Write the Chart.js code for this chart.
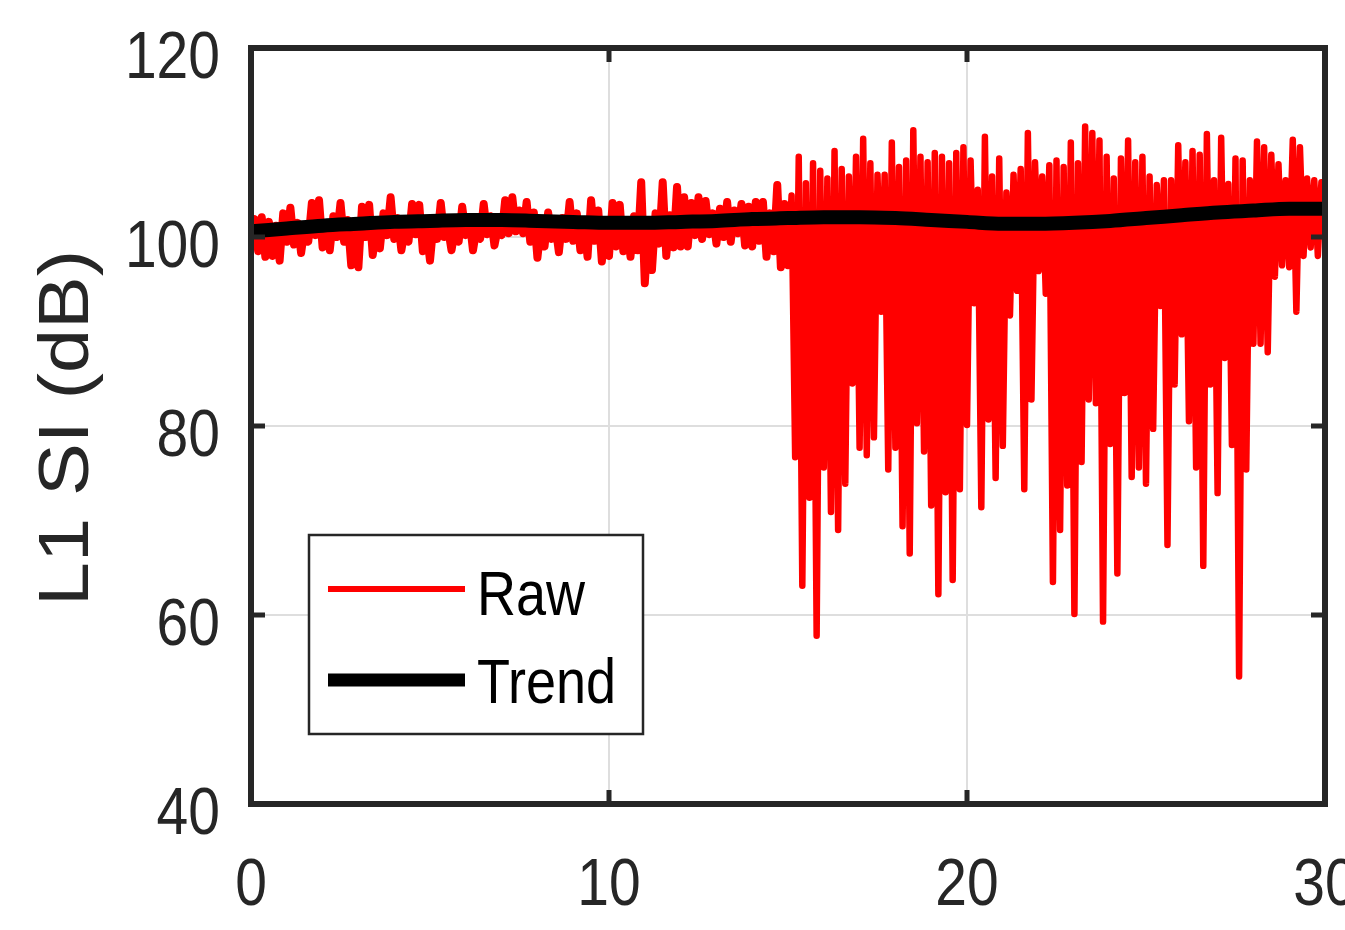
<!DOCTYPE html>
<html lang="en">

<head>
  <meta charset="UTF-8">
  <title>L1 SI</title>
  <script src="https://cdn.jsdelivr.net/npm/chart.js@4"></script>
  <style>
    html, body { margin: 0; padding: 0; background: #fff; }
    #grafico { display: block; }
  </style>
</head>

<body>

  <canvas id="grafico" width="1345" height="930"></canvas>

<script>

  // raw signal, one sample every 0.1 (row = 1 unit)
  const rawStep = 0.1;
  const rawValues = [
    100.5, 101.9, 98.5, 102.1, 97.9, 101.6, 98.0, 101.2, 97.5, 102.5,
    99.5, 103.1, 99.2, 101.5, 98.3, 101.0, 99.5, 103.6, 100.2, 103.9,
    98.9, 101.0, 98.6, 102.2, 100.0, 103.6, 99.5, 101.8, 97.0, 100.8,
    96.8, 103.2, 100.0, 103.4, 98.1, 100.8, 98.8, 102.5, 100.2, 104.2,
    99.8, 102.0, 98.6, 100.8, 99.5, 103.5, 100.3, 103.4, 98.5, 100.8,
    97.5, 101.5, 99.8, 103.6, 100.0, 101.0, 98.6, 100.8, 99.5, 103.2,
    100.2, 102.0, 98.6, 100.9, 99.8, 103.5, 100.3, 102.2, 99.1, 101.0,
    100.2, 103.9, 100.4, 104.2, 100.6, 102.8, 100.4, 103.7, 99.5, 102.6,
    97.8, 101.2, 99.0, 102.6, 99.8, 101.3, 98.4, 102.0, 99.8, 103.7,
    99.6, 102.5, 98.6, 101.8, 97.9, 103.9, 99.6, 102.8, 97.4, 101.5,
    98.0, 103.6, 99.0, 103.4, 98.5, 101.5, 97.9, 102.2, 98.6, 105.8,
    95.1, 101.2, 96.5, 102.5, 99.3, 105.8, 98.0, 102.3, 98.9, 105.3,
    99.0, 104.2, 99.0, 103.6, 100.2, 104.2, 99.8, 103.8, 100.3, 102.5,
    99.3, 103.0, 100.0, 103.7, 99.5, 102.8, 100.4, 103.5, 99.1, 103.2,
    99.0, 103.7, 99.6, 103.7, 97.9, 102.5, 98.5, 105.5, 96.8, 103.5,
    97.0, 104.4, 76.7, 108.5, 63.1, 105.7, 72.4, 107.8, 57.8, 107.0,
    75.6, 106.2, 70.9, 109.1, 69.0, 107.2, 73.9, 106.4, 84.5, 108.5,
    77.7, 110.4, 76.9, 107.8, 78.8, 106.6, 92.1, 106.6, 75.4, 110.0,
    77.7, 107.4, 69.4, 108.1, 66.5, 111.3, 80.3, 108.5, 77.3, 107.9,
    71.6, 108.9, 62.2, 108.5, 73.0, 107.8, 63.7, 108.9, 73.3, 109.5,
    80.1, 108.1, 93.0, 105.0, 71.4, 110.6, 80.7, 106.4, 74.5, 108.3,
    77.9, 104.7, 91.7, 106.6, 94.3, 107.2, 73.3, 111.0, 82.8, 107.9,
    96.4, 106.4, 94.0, 107.6, 63.5, 108.1, 69.0, 107.4, 73.7, 110.0,
    60.1, 107.8, 76.2, 111.7, 82.8, 111.0, 82.4, 110.2, 59.3, 108.5,
    78.1, 106.2, 64.4, 108.3, 83.5, 110.2, 74.6, 107.9, 75.6, 108.5,
    73.9, 106.4, 79.7, 105.5, 92.7, 106.0, 67.4, 106.0, 84.4, 109.7,
    89.7, 107.9, 80.5, 109.1, 75.6, 108.7, 65.2, 110.9, 84.4, 106.0,
    72.9, 110.5, 87.2, 105.6, 78.0, 108.3, 53.5, 108.1, 75.4, 106.0,
    88.7, 110.1, 88.7, 109.5, 87.8, 108.7, 95.8, 107.7, 97.0, 106.0,
    96.8, 110.3, 92.1, 109.5, 98.0, 106.2, 98.9, 106.0, 98.0, 105.8,
    101.0
  ];

  // smooth trend
  const trendTimes = [0, 1, 2, 3, 4, 5, 6, 7, 8, 9, 10, 11, 12, 13, 14, 15,
    16, 17, 18, 19, 20, 21, 22, 23, 24, 25, 26, 27, 28, 29, 30];
  const trendValues = [100.6, 100.9, 101.2, 101.4, 101.6, 101.7, 101.8, 101.8, 101.7, 101.6, 101.5,
    101.5, 101.6, 101.7, 101.9, 102.0, 102.1, 102.1, 102.0, 101.8, 101.6,
    101.4, 101.4, 101.5, 101.7, 102.0, 102.3, 102.6, 102.8, 103.0, 103.0];

  const xTicks = [0, 10, 20, 30];
  const yTicks = [40, 60, 80, 100, 120];
  const seriesNames = ['Raw', 'Trend'];
  const yTitle = 'L1 SI (dB)';

  const corEixo = '#262626';
  const fonte = "'Liberation Sans', Arial, Helvetica, sans-serif";

  // the figure text is tall and narrow, so it is drawn with a vertical stretch
  function textoEsticado(ctx, txt, x, y, sy, align) {
    ctx.save();
    ctx.translate(x, y);
    ctx.scale(1, sy);
    ctx.textAlign = align;
    ctx.textBaseline = 'alphabetic';
    ctx.fillText(txt, 0, 0);
    ctx.restore();
  }

  // frame, inward tick marks, tick labels, axis title and legend box
  const molduraPlugin = {
    id: 'moldura',
    afterDraw(chart) {
      const ctx = chart.ctx;
      const a = chart.chartArea;
      const x = chart.scales.x;
      const y = chart.scales.y;

      ctx.save();
      ctx.strokeStyle = corEixo;
      ctx.lineWidth = 5;
      ctx.beginPath();
      yTicks.forEach(v => {
        const py = y.getPixelForValue(v);
        ctx.moveTo(a.left, py); ctx.lineTo(a.left + 14, py);
        ctx.moveTo(a.right, py); ctx.lineTo(a.right - 14, py);
      });
      xTicks.forEach(v => {
        const px = x.getPixelForValue(v);
        ctx.moveTo(px, a.bottom); ctx.lineTo(px, a.bottom - 14);
        ctx.moveTo(px, a.top); ctx.lineTo(px, a.top + 14);
      });
      ctx.stroke();

      ctx.lineWidth = 6;
      ctx.strokeRect(a.left, a.top, a.right - a.left, a.bottom - a.top);

      // tick labels
      ctx.fillStyle = corEixo;
      ctx.font = '57px ' + fonte;
      yTicks.forEach(v => {
        textoEsticado(ctx, String(v), 220, y.getPixelForValue(v) + 29.5, 1.18, 'right');
      });
      xTicks.forEach(v => {
        textoEsticado(ctx, String(v), x.getPixelForValue(v), 905, 1.18, 'center');
      });

      // y axis title
      ctx.save();
      ctx.font = '70px ' + fonte;
      ctx.translate(88, (a.top + a.bottom) / 2 + 2);
      ctx.rotate(-Math.PI / 2);
      ctx.scale(1.13, 1);
      ctx.textAlign = 'center';
      ctx.textBaseline = 'alphabetic';
      ctx.fillText(yTitle, 0, 0);
      ctx.restore();

      // legend
      ctx.fillStyle = '#fff';
      ctx.fillRect(309, 535, 334, 199);
      ctx.strokeStyle = corEixo;
      ctx.lineWidth = 2.5;
      ctx.strokeRect(309, 535, 334, 199);

      const linhas = [{ y: 589, txt: 615, w: 6 }, { y: 680, txt: 703, w: 13 }];
      chart.data.datasets.forEach(ds => {
        const l = linhas[seriesNames.indexOf(ds.label)];
        ctx.strokeStyle = ds.borderColor;
        ctx.lineWidth = l.w;
        ctx.lineCap = 'butt';
        ctx.beginPath();
        ctx.moveTo(328, l.y);
        ctx.lineTo(465, l.y);
        ctx.stroke();
        ctx.fillStyle = '#000';
        ctx.font = '54px ' + fonte;
        textoEsticado(ctx, ds.label, 477, l.txt, 1.17, 'left');
      });
      ctx.restore();
    }
  };

  const dados = {
    datasets: [
      {
        label: seriesNames[0],
        data: rawValues.map((v, i) => ({ x: i * rawStep, y: v })),
        borderColor: '#ff0000',
        borderWidth: 6.5,
        borderJoinStyle: 'round',
        borderCapStyle: 'round',
        // the first half is a dense band, the line is drawn a bit wider there
        segment: {
          borderWidth: c => (c.p0.parsed.x < 15 ? 8 : 6.5)
        },
        pointRadius: 0,
        tension: 0,
        order: 1
      },
      {
        label: seriesNames[1],
        data: trendTimes.map((t, i) => ({ x: t, y: trendValues[i] })),
        borderColor: '#000000',
        borderWidth: 14,
        pointRadius: 0,
        cubicInterpolationMode: 'monotone',
        order: 0
      }
    ]
  };

  const config = {
    type: 'line',
    data: dados,
    options: {
      responsive: false,
      animation: false,
      devicePixelRatio: 1,
      layout: { padding: { top: 48, right: 20, left: 0, bottom: 0 } },
      plugins: {
        legend: { display: false },
        tooltip: { enabled: false }
      },
      scales: {
        x: {
          type: 'linear',
          min: 0,
          max: 30,
          afterBuildTicks: s => { s.ticks = xTicks.map(v => ({ value: v })); },
          afterFit: s => { s.height = 126; s.paddingLeft = 0; s.paddingRight = 0; },
          grid: { color: '#dedede', lineWidth: 2, drawTicks: false },
          border: { display: false },
          ticks: { display: false }
        },
        y: {
          min: 40,
          max: 120,
          afterBuildTicks: s => { s.ticks = yTicks.map(v => ({ value: v })); },
          afterFit: s => { s.width = 251; s.paddingTop = 0; s.paddingBottom = 0; },
          grid: { color: '#dedede', lineWidth: 2, drawTicks: false },
          border: { display: false },
          ticks: { display: false }
        }
      }
    },
    plugins: [molduraPlugin]
  };

  let myChart = new Chart(document.getElementById('grafico'), config);

</script>

</body>

</html>
